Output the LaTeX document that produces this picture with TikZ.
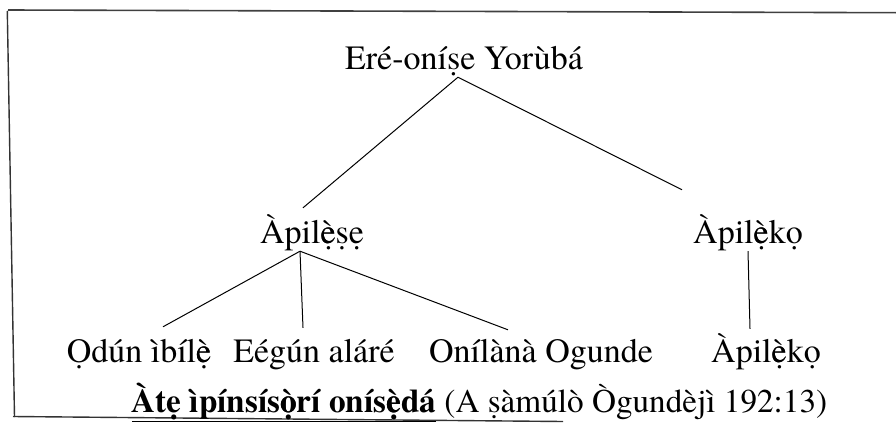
\documentclass[tikz,border=0pt]{standalone}
\usepackage{fontspec}
\setmainfont{texgyretermes}[Extension=.otf,UprightFont=*-regular,BoldFont=*-bold,ItalicFont=*-italic,BoldItalicFont=*-bolditalic]
% e and o with grave above and dot below
\newcommand\edg{\ooalign{ẹ\cr è\cr}}
\newcommand\odg{\ooalign{ọ\cr ò\cr}}
\begin{document}
\begin{tikzpicture}[x=1pt,y=-1pt,font=\fontsize{34}{40}\selectfont,
  lbl/.style={anchor=base,inner sep=0pt,text height=26pt,text depth=8pt},
  edge/.style={line width=1pt}]
\useasboundingbox (0,0) rectangle (896,423);

\coordinate (tl) at (8,10);
\coordinate (tr) at (896,12.7);
\coordinate (lt) at (7.3,11);
\coordinate (lb) at (14.5,417);
\coordinate (bl) at (13,416.5);
\coordinate (br) at (563,421.5);

\draw[line width=1.6pt,black!75] (tl) -- (tr);
\draw[line width=1.4pt,black!80] (lt) -- (lb);
\draw[line width=1.4pt,black!80] (bl) -- (br);

\node[lbl] (root) at (464,69) {Eré-oníṣe Yorùbá};
\node[lbl] (lese) at (312,243) {Àpil\edg ṣẹ};
\node[lbl] (leko) at (748,243) {Àpil\edg kọ};
\node[lbl] (odun) at (139,362) {Ọdún ìbíl\edg};
\node[lbl] (egun) at (314,362) {Eégún aláré};
\node[lbl] (ogunde) at (541,362) {Onílànà Ogunde};
\node[lbl] (lekob) at (766,362) {Àpil\edg kọ};
\node[lbl,font=\fontsize{33.2}{40}\selectfont] (cap) at (479.5,412) {\textbf{\underline{Àtẹ ìpínsís\odg rí onís\edg dá}} (A ṣàmúlò Ògundèjì 192:13)};

\draw[edge] ([xshift=-6pt]root.south) -- ([xshift=-9pt,yshift=9pt]lese.north);
\draw[edge] ([xshift=-6pt]root.south) -- ([xshift=-66pt,yshift=27pt]leko.north);

\draw[edge] ([xshift=-12pt]lese.south) -- ([xshift=24pt,yshift=9pt]odun.north);
\draw[edge] ([xshift=-12pt]lese.south) -- ([xshift=-11pt,yshift=8pt]egun.north);
\draw[edge] ([xshift=-12pt]lese.south) -- ([xshift=-33pt,yshift=6pt]ogunde.north);

\draw[edge] (leko.south) -- ([xshift=-16pt,yshift=7pt]lekob.north);

\end{tikzpicture}
\end{document}
